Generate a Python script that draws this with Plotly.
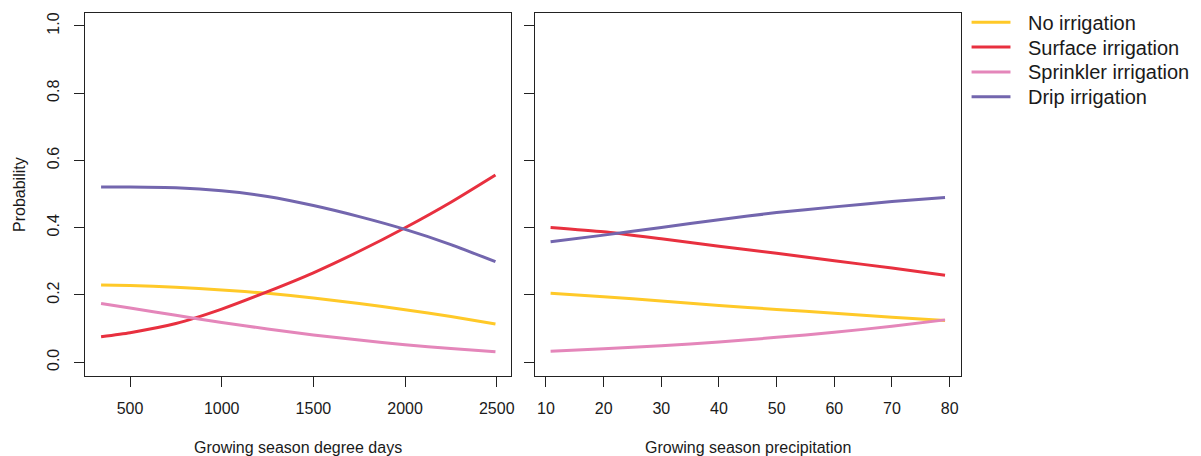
import plotly.graph_objects as go

# The page body has an 8px margin; the figure is sized/offset to compensate.
WIN_W, WIN_H = 1201, 456
OFF = 8
FW, FH = WIN_W - OFF, WIN_H - OFF

series_names = ["No irrigation", "Surface irrigation", "Sprinkler irrigation", "Drip irrigation"]
series_colors = ["#FFC928", "#E8303F", "#E486BA", "#7366AE"]

# Left panel: growing season degree days
gdd = [342, 500, 750, 1000, 1250, 1500, 1750, 2000, 2250, 2493]
gdd_no = [0.230, 0.228, 0.223, 0.215, 0.205, 0.191, 0.175, 0.156, 0.136, 0.114]
gdd_surface = [0.076, 0.088, 0.115, 0.158, 0.210, 0.266, 0.330, 0.400, 0.476, 0.557]
gdd_sprinkler = [0.175, 0.161, 0.140, 0.118, 0.099, 0.081, 0.066, 0.052, 0.041, 0.031]
gdd_drip = [0.521, 0.521, 0.519, 0.510, 0.493, 0.466, 0.433, 0.395, 0.350, 0.299]

# Right panel: growing season precipitation
prec = [10.8, 20, 30, 40, 50, 60, 70, 79.2]
prec_no = [0.205, 0.195, 0.182, 0.169, 0.157, 0.146, 0.134, 0.124]
prec_surface = [0.401, 0.388, 0.367, 0.345, 0.324, 0.302, 0.280, 0.259]
prec_sprinkler = [0.033, 0.040, 0.049, 0.060, 0.074, 0.089, 0.107, 0.126]
prec_drip = [0.358, 0.378, 0.401, 0.424, 0.445, 0.462, 0.478, 0.490]

gdd_ticks = [500, 1000, 1500, 2000, 2500]
prec_ticks = [10, 20, 30, 40, 50, 60, 70, 80]
prob_ticks = [0.0, 0.2, 0.4, 0.6, 0.8, 1.0]

left_series = [gdd_no, gdd_surface, gdd_sprinkler, gdd_drip]
right_series = [prec_no, prec_surface, prec_sprinkler, prec_drip]

FONT = "Liberation Sans, Arial, sans-serif"
TXT = "#1a1a1a"


def px_x(p):
    return (p - OFF) / FW


def px_y(p):
    return 1 - (p - OFF) / FH


fig = go.Figure()
for name, col, ys in zip(series_names, series_colors, left_series):
    fig.add_trace(go.Scatter(x=gdd, y=ys, mode="lines", name=name,
                             line=dict(color=col, width=3, shape="spline", smoothing=0.6),
                             xaxis="x", yaxis="y", showlegend=False))
for name, col, ys in zip(series_names, series_colors, right_series):
    fig.add_trace(go.Scatter(x=prec, y=ys, mode="lines", name=name,
                             line=dict(color=col, width=3, shape="spline", smoothing=0.6),
                             xaxis="x2", yaxis="y2", showlegend=False))

axis_common = dict(showline=True, mirror=True, linecolor="#222222", linewidth=1.3,
                   ticks="outside", ticklen=10, tickcolor="#222222", tickwidth=1.3,
                   showgrid=False, zeroline=False,
                   tickfont=dict(family=FONT, size=16, color=TXT))

# Manual legend (R-style): line samples and labels
legend_y = [22.3, 47.1, 71.9, 96.7]
shapes = []
annotations = []
for name, col, ly in zip(series_names, series_colors, legend_y):
    shapes.append(dict(type="line", xref="paper", yref="paper",
                       x0=px_x(974), x1=px_x(1013), y0=px_y(ly), y1=px_y(ly),
                       line=dict(color=col, width=3)))
    annotations.append(dict(text=name, x=px_x(1029), y=px_y(ly + 0.5), xref="paper", yref="paper",
                            showarrow=False, xanchor="left", yanchor="middle",
                            font=dict(family=FONT, size=20, color=TXT)))

annotations += [
    dict(text="Growing season degree days", x=px_x(299), y=px_y(447),
         xref="paper", yref="paper", showarrow=False, xanchor="center", yanchor="middle",
         font=dict(family=FONT, size=16, color=TXT)),
    dict(text="Growing season precipitation", x=px_x(749.5), y=px_y(447),
         xref="paper", yref="paper", showarrow=False, xanchor="center", yanchor="middle",
         font=dict(family=FONT, size=16, color=TXT)),
    dict(text="Probability", x=px_x(19), y=px_y(194), textangle=-90,
         xref="paper", yref="paper", showarrow=False, xanchor="center", yanchor="middle",
         font=dict(family=FONT, size=16, color=TXT)),
]

fig.update_layout(
    width=FW, height=FH,
    margin=dict(l=0, r=0, t=0, b=0),
    paper_bgcolor="white", plot_bgcolor="white",
    showlegend=False,
    xaxis=dict(domain=[px_x(85.5), px_x(512.5)], range=[256, 2579],
               tickvals=gdd_ticks, ticktext=[str(t) for t in gdd_ticks],
               anchor="y", ticklabelstandoff=8, **axis_common),
    yaxis=dict(domain=[px_y(375.7), px_y(12.5)], range=[-0.04, 1.04],
               tickvals=prob_ticks, ticktext=["%.1f" % t for t in prob_ticks],
               tickangle=-90, anchor="x", ticklabelstandoff=9, **axis_common),
    xaxis2=dict(domain=[px_x(536), px_x(963.3)], range=[8.04, 81.95],
                tickvals=prec_ticks, ticktext=[str(t) for t in prec_ticks],
                anchor="y2", ticklabelstandoff=8, **axis_common),
    yaxis2=dict(domain=[px_y(375.7), px_y(12.5)], range=[-0.04, 1.04],
                tickvals=prob_ticks, showticklabels=False, anchor="x2", **axis_common),
    shapes=shapes,
    annotations=annotations,
)

fig.write_html("out.html")
